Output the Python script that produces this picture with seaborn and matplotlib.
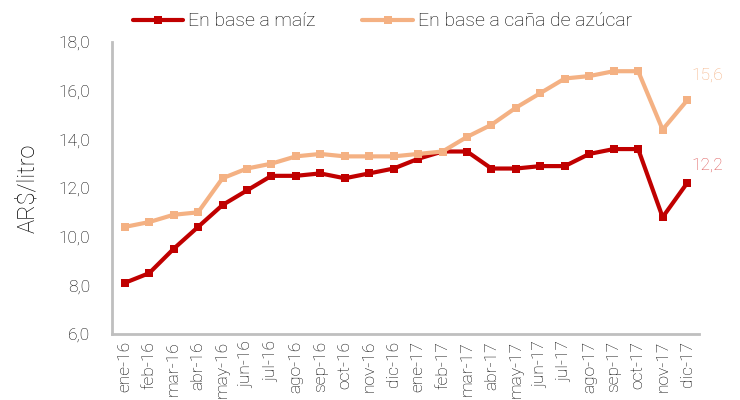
import pandas as pd
import numpy as np
import seaborn as sns
import matplotlib.pyplot as plt

meses = ["ene-16", "feb-16", "mar-16", "abr-16", "may-16", "jun-16", "jul-16", "ago-16",
         "sep-16", "oct-16", "nov-16", "dic-16", "ene-17", "feb-17", "mar-17", "abr-17",
         "may-17", "jun-17", "jul-17", "ago-17", "sep-17", "oct-17", "nov-17", "dic-17"]
maiz = [8.1, 8.5, 9.5, 10.4, 11.3, 11.9, 12.5, 12.5, 12.6, 12.4, 12.6, 12.8,
        13.2, 13.5, 13.5, 12.8, 12.8, 12.9, 12.9, 13.4, 13.6, 13.6, 10.8, 12.2]
cana = [10.4, 10.6, 10.9, 11.0, 12.4, 12.8, 13.0, 13.3, 13.4, 13.3, 13.3, 13.3,
        13.4, 13.5, 14.1, 14.6, 15.3, 15.9, 16.5, 16.6, 16.8, 16.8, 14.4, 15.6]
series = ["En base a maíz", "En base a caña de azúcar"]
colores = ["#C00000", "#F4B183"]

datos = pd.DataFrame({
    "x": list(range(len(meses))) * 2,
    "valor": maiz + cana,
    "serie": [series[0]] * len(meses) + [series[1]] * len(meses),
})

sns.set_style("white")
plt.rcParams["font.family"] = ["Roboto", "DejaVu Sans"]
plt.rcParams["font.weight"] = "light"
texto = "#000000"

fig, ax = plt.subplots(figsize=(7.4, 4), dpi=100)
sns.lineplot(data=datos, x="x", y="valor", hue="serie", hue_order=series,
             palette=colores, linewidth=3, marker="s", markersize=5.5,
             markeredgewidth=0, ax=ax)

ax.set_xlim(-0.5, len(meses) - 0.5)
ax.set_ylim(6, 18)
ax.set_yticks(np.arange(6, 18.1, 2))
ax.set_yticklabels([f"{v:.1f}".replace(".", ",") for v in np.arange(6, 18.1, 2)],
                   fontsize=12.5, color=texto)
ax.set_xticks(range(len(meses)))
ax.set_xticklabels(meses, rotation=90, fontsize=12.5, color=texto)
ax.set_xticks(np.arange(-0.5, len(meses), 1), minor=True)
ax.tick_params(axis="x", which="major", length=0, pad=5)
ax.tick_params(axis="x", which="minor", length=5, color="#BFBFBF", width=1.5)
ax.tick_params(axis="y", length=5, color="#BFBFBF", width=1.5, pad=11)
ax.set_xlabel("")
ax.set_ylabel("AR\\$/litro", fontsize=17, color=texto, labelpad=14, fontweight="light")

for s in ["top", "right"]:
    ax.spines[s].set_visible(False)
for s in ["left", "bottom"]:
    ax.spines[s].set_color("#BFBFBF")
    ax.spines[s].set_linewidth(2)

ax.annotate(f"{maiz[-1]:.1f}".replace(".", ","), (len(meses) - 1, maiz[-1]),
            xytext=(3, 10), textcoords="offset points", fontsize=12.5, color="#DC5050")
ax.annotate(f"{cana[-1]:.1f}".replace(".", ","), (len(meses) - 1, cana[-1]),
            xytext=(3, 15), textcoords="offset points", fontsize=12.5, color="#F4B183")

ax.legend(loc="lower center", bbox_to_anchor=(0.46, 1.0), ncol=2, frameon=False,
          fontsize=14, handlelength=2.6, handletextpad=0.25, columnspacing=2.4,
          borderaxespad=0.2)
for t in ax.get_legend().get_texts():
    t.set_color(texto)

plt.subplots_adjust(left=0.152, right=0.945, top=0.895, bottom=0.165)
plt.savefig("out.png")
